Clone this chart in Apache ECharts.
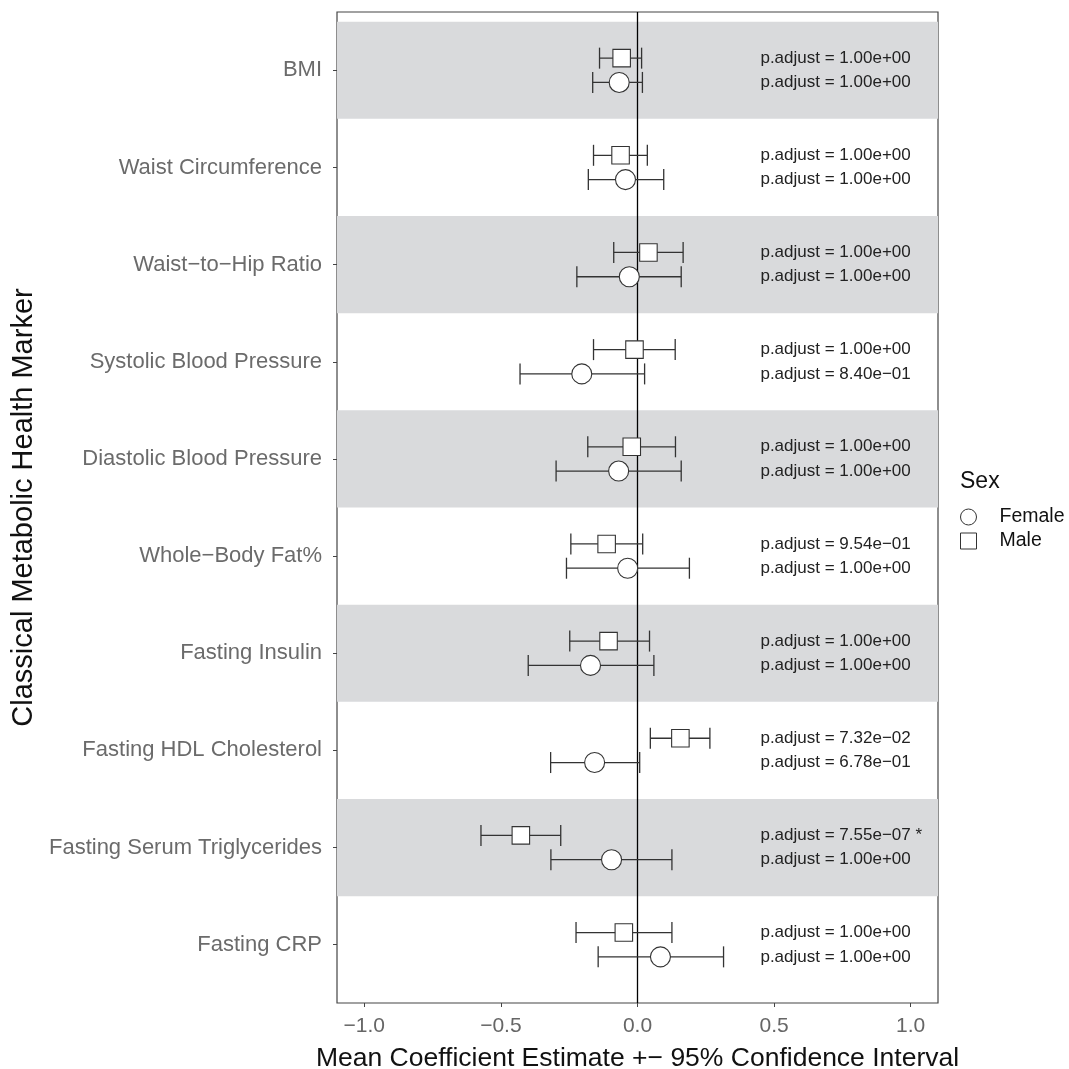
<!DOCTYPE html>
<html>
<head>
<meta charset="utf-8">
<script src="https://cdn.jsdelivr.net/npm/echarts@6/dist/echarts.min.js"></script>
<style>html,body{margin:0;padding:0;background:#fff}#c{width:1069px;height:1069px}</style>
</head>
<body>
<div id="c"></div>
<script>
var categories = ['BMI','Waist Circumference','Waist\u2212to\u2212Hip Ratio','Systolic Blood Pressure','Diastolic Blood Pressure','Whole\u2212Body Fat%','Fasting Insulin','Fasting HDL Cholesterol','Fasting Serum Triglycerides','Fasting CRP'];
var maleEst  = [-0.058,-0.062, 0.040,-0.011,-0.021,-0.113,-0.106, 0.157,-0.427,-0.050];
var maleLow  = [-0.139,-0.161,-0.087,-0.161,-0.182,-0.244,-0.248, 0.047,-0.573,-0.225];
var maleHigh = [ 0.015, 0.036, 0.167, 0.138, 0.139, 0.019, 0.044, 0.265,-0.281, 0.126];
var femaleEst  = [-0.067,-0.044,-0.030,-0.204,-0.069,-0.036,-0.172,-0.157,-0.095, 0.084];
var femaleLow  = [-0.164,-0.180,-0.222,-0.430,-0.298,-0.260,-0.400,-0.318,-0.317,-0.144];
var femaleHigh = [ 0.018, 0.096, 0.160, 0.026, 0.160, 0.190, 0.060, 0.008, 0.126, 0.315];
var maleP   = ['1.00e+00','1.00e+00','1.00e+00','1.00e+00','1.00e+00','9.54e\u221201','1.00e+00','7.32e\u221202','7.55e\u221207 *','1.00e+00'];
var femaleP = ['1.00e+00','1.00e+00','1.00e+00','8.40e\u221201','1.00e+00','1.00e+00','1.00e+00','6.78e\u221201','1.00e+00','1.00e+00'];
var xTicks = [-1, -0.5, 0, 0.5, 1];
var shadedRows = [0, 2, 4, 6, 8];

var OFF = 0.125;
var FONT = 'Liberation Sans, Arial, Helvetica, sans-serif';

var chart = echarts.init(document.getElementById('c'), null, {renderer: 'canvas'});

var maleErr = categories.map(function(c, i){ return [maleLow[i], maleHigh[i], i - OFF]; });
var femaleErr = categories.map(function(c, i){ return [femaleLow[i], femaleHigh[i], i + OFF]; });
var malePts = categories.map(function(c, i){ return [maleEst[i], i - OFF]; });
var femalePts = categories.map(function(c, i){ return [femaleEst[i], i + OFF]; });
var texts = [];
categories.forEach(function(c, i){
  texts.push([0.45, i - OFF, 'p.adjust = ' + maleP[i]]);
  texts.push([0.45, i + OFF, 'p.adjust = ' + femaleP[i]]);
});
var yTicks = categories.map(function(c, i){ return i; });

function errRender(params, api) {
  var lo = api.coord([api.value(0), api.value(2)]);
  var hi = api.coord([api.value(1), api.value(2)]);
  var h = 10.5;
  var st = {stroke: '#333', lineWidth: 1.3};
  return {type: 'group', children: [
    {type: 'line', shape: {x1: lo[0], y1: lo[1], x2: hi[0], y2: hi[1]}, style: st},
    {type: 'line', shape: {x1: lo[0], y1: lo[1]-h, x2: lo[0], y2: lo[1]+h}, style: st},
    {type: 'line', shape: {x1: hi[0], y1: hi[1]-h, x2: hi[0], y2: hi[1]+h}, style: st}
  ]};
}

var option = {
  animation: false,
  backgroundColor: '#fff',
  grid: {left: 337, right: 131, top: 12, bottom: 66, show: true, borderColor: '#444', borderWidth: 1.2,
    containLabel: false, outerBoundsMode: 'none'},
  xAxis: {
    type: 'value', min: -1.1, max: 1.1, position: 'bottom',
    axisLine: {show: false, onZero: false},
    splitLine: {show: false},
    axisTick: {show: true, customValues: xTicks, length: 4, lineStyle: {color: '#444'}},
    axisLabel: {customValues: xTicks, color: '#666', fontSize: 21, fontFamily: FONT, margin: 13,
      formatter: function(v){ return (v < 0 ? '\u2212' : '') + Math.abs(v).toFixed(1); }},
    name: 'Mean Coefficient Estimate +\u2212 95% Confidence Interval',
    nameLocation: 'middle', nameGap: 42,
    nameTextStyle: {color: '#111', fontSize: 26.5, fontFamily: FONT}
  },
  yAxis: {
    type: 'value', inverse: true, min: -0.6, max: 9.6, position: 'left',
    axisLine: {show: false, onZero: false},
    splitLine: {show: false},
    axisTick: {show: true, customValues: yTicks, length: 4, lineStyle: {color: '#444'}},
    axisLabel: {customValues: yTicks, color: '#6b6b6b', fontSize: 22, fontFamily: FONT, margin: 15,
      formatter: function(v){ return categories[Math.round(v)]; }},
    name: 'Classical Metabolic Health Marker',
    nameLocation: 'middle', nameGap: 291, nameRotate: 90,
    nameTextStyle: {color: '#111', fontSize: 29, fontFamily: FONT}
  },
  legend: {
    orient: 'vertical', left: 960, top: 507, padding: 0, itemGap: 4, itemWidth: 16, itemHeight: 16,
    textStyle: {fontSize: 19.5, color: '#111', fontFamily: FONT, padding: [0, 0, 0, 18]},
    data: [
      {name: 'Female', icon: 'circle', itemStyle: {color: '#fff', borderColor: '#333', borderWidth: 1}},
      {name: 'Male', icon: 'rect', itemStyle: {color: '#fff', borderColor: '#333', borderWidth: 1}}
    ]
  },
  graphic: [
    {type: 'text', left: 960, top: 470, style: {text: 'Sex', fontSize: 23, fill: '#111', fontFamily: FONT}}
  ],
  series: [
    {
      type: 'custom', name: 'bands', silent: true, z: 1, clip: true,
      data: shadedRows.map(function(r){ return [r]; }),
      renderItem: function(params, api) {
        var r = api.value(0);
        var p1 = api.coord([-1.1, r - 0.5]);
        var p2 = api.coord([1.1, r + 0.5]);
        return {type: 'rect', shape: {x: p1[0], y: p1[1], width: p2[0]-p1[0], height: p2[1]-p1[1]}, style: {fill: '#d9dadc'}};
      },
      encode: {x: -1, y: 0}
    },
    {
      type: 'custom', name: 'maleErr', silent: true, z: 3, data: maleErr, renderItem: errRender,
      encode: {x: [0, 1], y: 2}
    },
    {
      type: 'custom', name: 'femaleErr', silent: true, z: 3, data: femaleErr, renderItem: errRender,
      encode: {x: [0, 1], y: 2}
    },
    {
      type: 'scatter', name: 'Male', symbol: 'rect', symbolSize: 17.5, z: 5, data: malePts,
      itemStyle: {color: '#fff', borderColor: '#333', borderWidth: 1.1, opacity: 1},
      markLine: {silent: true, symbol: 'none', label: {show: false}, z: 2,
        lineStyle: {color: '#000', width: 1.3, type: 'solid'}, data: [{xAxis: 0}]}
    },
    {
      type: 'scatter', name: 'Female', symbol: 'circle', symbolSize: 20, z: 5, data: femalePts,
      itemStyle: {color: '#fff', borderColor: '#333', borderWidth: 1.1, opacity: 1}
    },
    {
      type: 'custom', name: 'ptext', silent: true, z: 6, data: texts,
      encode: {x: 0, y: 1},
      renderItem: function(params, api) {
        var p = api.coord([api.value(0), api.value(1)]);
        return {type: 'text', x: p[0], y: p[1], style: {text: texts[params.dataIndex][2], fontSize: 17, fill: '#222', fontFamily: FONT, textAlign: 'left', textVerticalAlign: 'middle'}};
      }
    }
  ]
};
chart.setOption(option);
</script>
</body>
</html>
